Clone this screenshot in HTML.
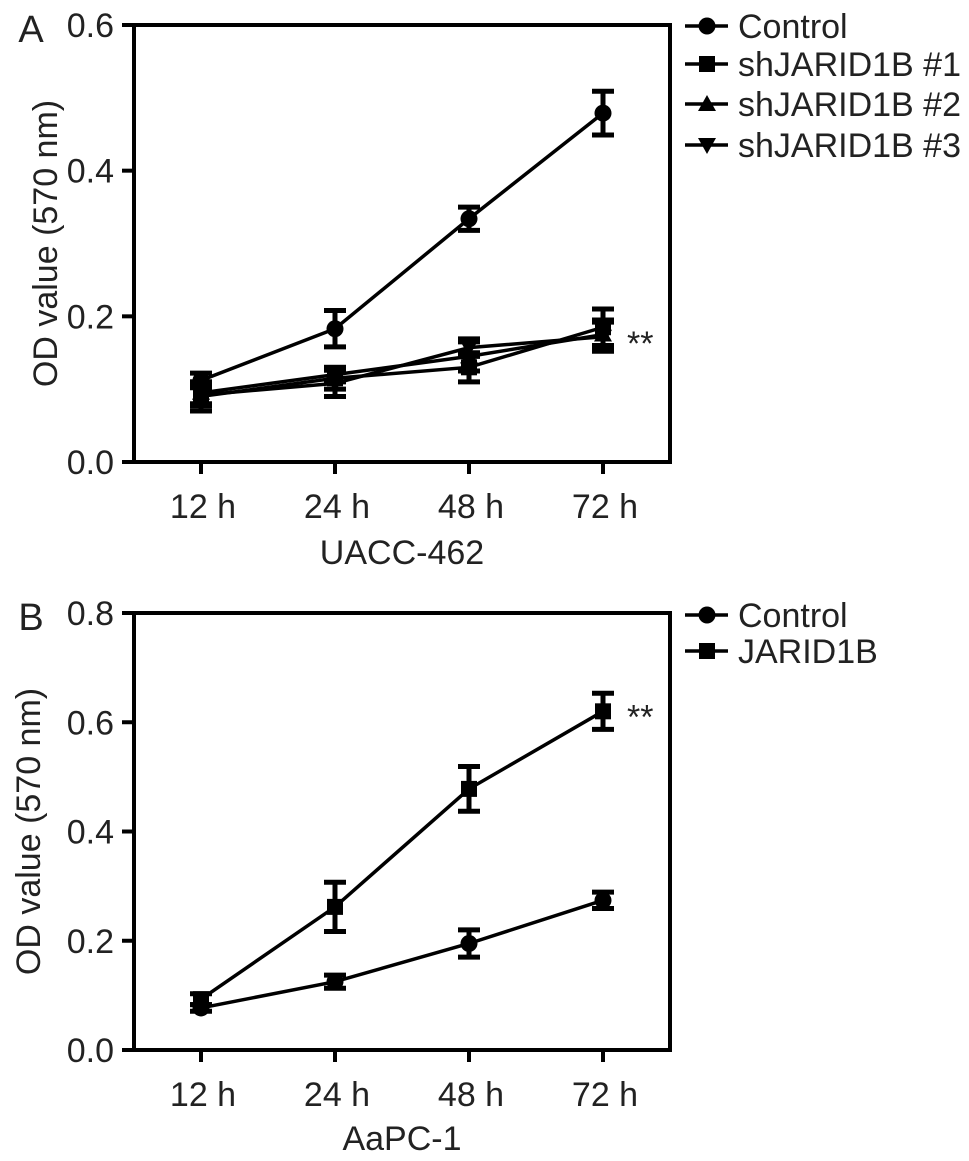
<!DOCTYPE html>
<html><head><meta charset="utf-8"><style>
html,body{margin:0;padding:0;background:#fff;}
svg{display:block;font-family:"Liberation Sans",Arial,sans-serif;}
</style></head><body>
<svg id="fig" width="969" height="1161" viewBox="0 0 969 1161"></svg>
<script>
const timeLabels = ["12 h","24 h","48 h","72 h"];
const aTicks = [0.0,0.2,0.4,0.6];
const aControl = [0.112,0.183,0.334,0.479];
const aControlErr = [0.010,0.025,0.016,0.030];
const aSh1 = [0.090,0.115,0.130,0.185];
const aSh1Err = [0.020,0.015,0.020,0.025];
const aSh2 = [0.095,0.120,0.145,0.175];
const aSh2Err = [0.015,0.010,0.020,0.020];
const aSh3 = [0.092,0.108,0.157,0.172];
const aSh3Err = [0.015,0.018,0.012,0.020];
const bTicks = [0.0,0.2,0.4,0.6,0.8];
const bControl = [0.077,0.125,0.195,0.274];
const bControlErr = [0.006,0.012,0.025,0.015];
const bJarid = [0.093,0.262,0.478,0.620];
const bJaridErr = [0.010,0.045,0.041,0.033];

const NS="http://www.w3.org/2000/svg";
const svg=document.getElementById('fig');
function mk(tag,attrs,parent,text){const e=document.createElementNS(NS,tag);for(const k in attrs)e.setAttribute(k,attrs[k]);if(text!==undefined)e.textContent=text;(parent||svg).appendChild(e);return e;}

function marker(g,shape,x,y){
  if(shape==='circle'){return mk('circle',{cx:x,cy:y,r:8.5,fill:'#000'},g);}
  if(shape==='square'){return mk('rect',{x:x-8,y:y-8,width:16,height:16,fill:'#000'},g);}
  if(shape==='tri'){return mk('polygon',{points:`${x},${y-9} ${x-9},${y+7} ${x+9},${y+7}`,fill:'#000'},g);}
  return mk('polygon',{points:`${x},${y+9} ${x-9},${y-7} ${x+9},${y-7}`,fill:'#000'},g);
}

function panel(cfg){
  const {left,right,top,bottom,ymax,ticks,letter,title,ylabelX,titleY,series,legend,stars}=cfg;
  const xs=[201,335,469,603];
  const X=i=>xs[i];
  const Y=v=>bottom-(v/ymax)*(bottom-top);
  const g=mk('g',{});
  
  
  const fr=mk('rect',{x:left,y:top,width:right-left,height:bottom-top,fill:'none',stroke:'#000','stroke-width':4},g);
  
  
  ticks.forEach(t=>{
    const y=Y(t);
    const tl=mk('line',{x1:left-12,y1:y,x2:left,y2:y,stroke:'#000','stroke-width':4},g);
    
    
    const tx=mk('text',{x:114,y:y+12,'text-anchor':'end','font-size':34,fill:'#222'},g,t.toFixed(1));
    
    
  });
  timeLabels.forEach((l,i)=>{
    const tl=mk('line',{x1:X(i),y1:bottom,x2:X(i),y2:bottom+12,stroke:'#000','stroke-width':4},g);
    
    
    const tx=mk('text',{x:X(i)+2,y:bottom+56,'text-anchor':'middle','font-size':34,fill:'#222'},g,l);
    
    
  });
  const lt=mk('text',{x:31,y:top+17,'text-anchor':'middle','font-size':38,fill:'#222'},g,letter);
  
  
  const xt=mk('text',{x:(left+right)/2,y:titleY,'text-anchor':'middle','font-size':34,fill:'#222'},g,title);
  
  
  const yc=(top+bottom)/2;
  const yt=mk('text',{x:ylabelX,y:yc,'text-anchor':'middle','font-size':34,fill:'#222',transform:`rotate(-90 ${ylabelX} ${yc})`,dy:12},g,'OD value (570 nm)');
  
  
  series.forEach(s=>{
    const sg=mk('g',{},g);
    
    
    const pts=s.vals.map((v,i)=>X(i)+','+Y(v)).join(' ');
    const pl=mk('polyline',{points:pts,fill:'none',stroke:'#000','stroke-width':3.5},sg);
    
    
    s.vals.forEach((v,i)=>{
      const x=X(i),y1=Y(v+s.err[i]),y2=Y(v-s.err[i]);
      const eb=mk('path',{d:`M${x},${y1}V${y2}M${x-11},${y1}H${x+11}M${x-11},${y2}H${x+11}`,stroke:'#000','stroke-width':5,fill:'none'},sg);
      
      
      const m=marker(sg,s.shape,x,Y(v));
      
      
    });
  });
  legend.forEach((e,i)=>{
    const lg=mk('g',{},g);
    
    
    const y=e.y;
    mk('line',{x1:685,y1:y,x2:728,y2:y,stroke:'#000','stroke-width':3.5},lg);
    marker(lg,e.shape,707,y);
    mk('text',{x:738,y:y+12,'font-size':34,fill:'#222'},lg,e.label);
  });
  stars.forEach(st=>{
    const t=mk('text',{x:627,y:Y(st)+17,'font-size':34,fill:'#222'},g,'**');
    
    
  });
}

panel({name:'panel-a',left:134,right:670,top:25,bottom:462,ymax:0.6,ticks:aTicks,letter:'A',title:'UACC-462',ylabelX:45,titleY:564,
  series:[
    {key:'sh1',vals:aSh1,err:aSh1Err,shape:'square'},
    {key:'sh2',vals:aSh2,err:aSh2Err,shape:'tri'},
    {key:'sh3',vals:aSh3,err:aSh3Err,shape:'inv'},
    {key:'control',vals:aControl,err:aControlErr,shape:'circle'}],
  legend:[{label:'Control',shape:'circle',y:26},{label:'shJARID1B #1',shape:'square',y:64},{label:'shJARID1B #2',shape:'tri',y:104},{label:'shJARID1B #3',shape:'inv',y:145}],
  stars:[0.17]});
panel({name:'panel-b',left:134,right:670,top:613,bottom:1050,ymax:0.8,ticks:bTicks,letter:'B',title:'AaPC-1',ylabelX:28,titleY:1150,
  series:[
    {key:'control',vals:bControl,err:bControlErr,shape:'circle'},
    {key:'jarid1b',vals:bJarid,err:bJaridErr,shape:'square'}],
  legend:[{label:'Control',shape:'circle',y:615},{label:'JARID1B',shape:'square',y:651}],
  stars:[0.62]});
</script>
</body></html>
